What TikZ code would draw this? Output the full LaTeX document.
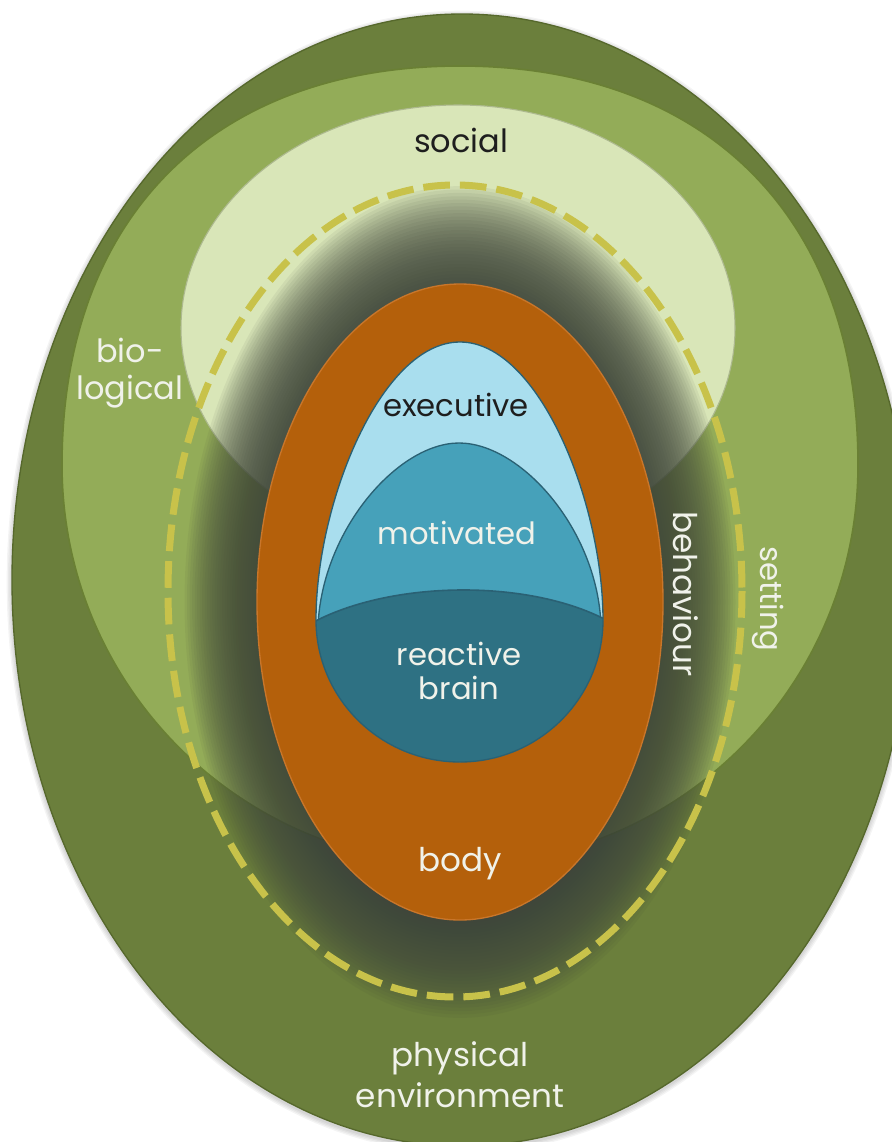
\documentclass[tikz,border=0pt]{standalone}
\usepackage{fontspec}
\setmainfont{Poppins}
\definecolor{dkgreen}{HTML}{6B7F3C}
\definecolor{dkgreenedge}{HTML}{56682C}
\definecolor{midgreen}{HTML}{93AC58}
\definecolor{midgreenedge}{HTML}{6A8034}
\definecolor{socialc}{HTML}{D9E6B8}
\definecolor{glowc}{HTML}{3F463A}
\definecolor{dashc}{HTML}{C8C24A}
\definecolor{orangec}{HTML}{B4600B}
\definecolor{orangeedge}{HTML}{C9762A}
\definecolor{execc}{HTML}{A9DEEE}
\definecolor{motivc}{HTML}{46A1BA}
\definecolor{reactc}{HTML}{2E7183}
\definecolor{brainedge}{HTML}{2A6174}
\definecolor{txtdark}{HTML}{1E1E1E}
\definecolor{txtlight}{HTML}{F0F2EA}
\tikzset{
  lbl/.style={font=\fontsize{23}{27}\selectfont, align=center, inner sep=0pt},
  biglbl/.style={font=\fontsize{24.5}{29}\selectfont, align=center, inner sep=0pt},
  darklbl/.style={lbl, text=txtdark},
  lightlbl/.style={lbl, text=txtlight},
  bigdark/.style={biglbl, text=txtdark},
  biglight/.style={biglbl, text=txtlight},
}
\begin{document}
\begin{tikzpicture}[x=0.75pt,y=-0.75pt]
\useasboundingbox (0,0) rectangle (892,1142);
\clip (0,0) rectangle (892,1142);
% soft shadow of the outer egg
\foreach \w in {2,4,6,8} {
  \draw[black, opacity=0.045, line width=\w pt] (462,582) ellipse [x radius=450, y radius=566];
}
% outer: physical environment
\fill[dkgreen, draw=dkgreenedge, line width=1pt] (462,580) ellipse [x radius=450, y radius=566];
% biological
\fill[midgreen, draw=midgreenedge, line width=1.2pt]
  (460,66) .. controls (213,66) and (62,218) .. (62,465)
  .. controls (62,685) and (240,864) .. (460,864)
  .. controls (680,864) and (858,685) .. (858,465)
  .. controls (858,218) and (707,66) .. (460,66) -- cycle;
% social
\fill[socialc, draw=midgreenedge!55, line width=0.8pt] (458,328) ellipse [x radius=277, y radius=223];
% glow around the body
\foreach \d in {0,2.5,...,72.5} {
  \fill[glowc, opacity=0.07] (460,602) ellipse [x radius={203+\d}, y radius={318+1.35*\d}];
}
% dashed boundary
\draw[dashc, line width=5.25pt, dash pattern=on 20pt off 7.5pt] (455,591) ellipse [x radius=287, y radius=406];
% body
\fill[orangec, draw=orangeedge, line width=1pt] (460,602) ellipse [x radius=203, y radius=318];
% brain
\begin{scope}
  \clip (316,620) .. controls (316,503) and (381,342) .. (460,342)
    .. controls (539,342) and (603,503) .. (603,620)
    .. controls (603,698) and (539,762) .. (460,762)
    .. controls (380,762) and (316,698) .. (316,620) -- cycle;
  \fill[execc] (300,330) rectangle (620,780);
  \fill[motivc, draw=brainedge, line width=1pt]
    (318,626) .. controls (322,530) and (398,443) .. (459,443)
    .. controls (521,443) and (598,530) .. (601,626) -- cycle;
  \fill[reactc, draw=brainedge, line width=1.2pt]
    (300,630) .. controls (380,578) and (540,576) .. (620,628) -- (620,790) -- (300,790) -- cycle;
\end{scope}
\draw[brainedge, line width=1pt] (316,620) .. controls (316,503) and (381,342) .. (460,342)
    .. controls (539,342) and (603,503) .. (603,620)
    .. controls (603,698) and (539,762) .. (460,762)
    .. controls (380,762) and (316,698) .. (316,620) -- cycle;
% labels
\node[bigdark, font=\fontsize{24}{28}\selectfont] (social) at (461,140) {social};
\node[lightlbl, font=\fontsize{24}{28}\selectfont] (bio) at (130,373) {bio-\\logical};
\node[darklbl] (exec) at (456,405) {executive};
\node[lightlbl] (motiv) at (457,533) {motivated};
\node[lightlbl, font=\fontsize{23}{26}\selectfont] (react) at (459,671) {reactive\\brain};
\node[biglight, rotate=-90] (behav) at (686,594) {behaviour};
\node[lightlbl, rotate=-90] (setting) at (768,599) {setting};
\node[biglight] (body) at (460,864) {body};
\node[biglight, font=\fontsize{24.5}{31}\selectfont] (phys) at (460,1075) {physical\\environment};
\end{tikzpicture}
\end{document}
